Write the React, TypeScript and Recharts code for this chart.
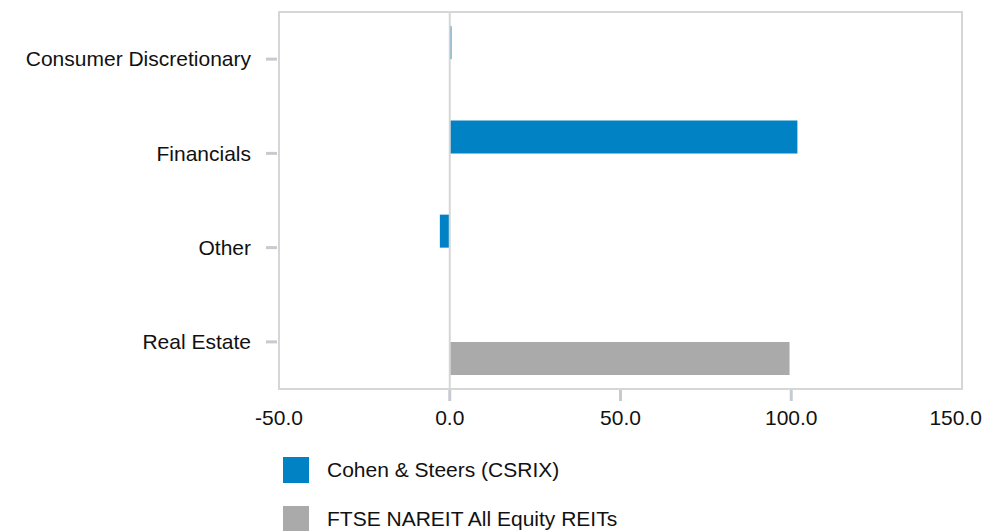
import React from 'react';
import { BarChart, Bar, XAxis, YAxis, ReferenceLine, ReferenceArea, Legend } from 'recharts';

const categories = ['Consumer Discretionary', 'Financials', 'Other', 'Real Estate'];
const fundValues = [0.5, 101.8, -2.9, 0];
const benchmarkValues = [0, 0, 0, 99.5];
const xTicks = [-50, 0, 50, 100, 150];
const seriesNames = ['Cohen & Steers (CSRIX)', 'FTSE NAREIT All Equity REITs'];
const seriesColors = ['#0082C4', '#AAAAAA'];

const data = categories.map((name, i) => ({
  name,
  fund: fundValues[i],
  bench: benchmarkValues[i],
}));

const FONT = '"Liberation Sans", Arial, sans-serif';
const TICK_COLOR = '#C6CBD0';
const BORDER_COLOR = '#D6D6D6';

const YTick = (props: any) => {
  const { x, y, payload } = props;
  return (
    <g>
      <line x1={x - 13} x2={x - 2} y1={y} y2={y} stroke={TICK_COLOR} strokeWidth={3} />
      <text x={x - 28} y={y} dy="0.35em" textAnchor="end" fontSize={21} fontFamily={FONT} fill="#111">
        {payload.value}
      </text>
    </g>
  );
};

const XTick = (props: any) => {
  const { x, y, payload } = props;
  const isFirst = payload.value === xTicks[0];
  const isLast = payload.value === xTicks[xTicks.length - 1];
  return (
    <g>
      {!isFirst && !isLast && <line x1={x} x2={x} y1={y + 1} y2={y + 12} stroke={TICK_COLOR} strokeWidth={3} />}
      <text
        x={isLast ? x + 20 : x}
        y={y + 36}
        textAnchor={isLast ? 'end' : 'middle'}
        fontSize={21}
        fontFamily={FONT}
        fill="#111"
      >
        {Number(payload.value).toFixed(1)}
      </text>
    </g>
  );
};

const LegendContent = () => (
  <div style={{ fontFamily: FONT, fontSize: 21, color: '#111' }}>
    {seriesNames.map((n, i) => (
      <div key={n} style={{ display: 'flex', alignItems: 'center', height: 26, lineHeight: '26px', marginBottom: 23.3 }}>
        <div style={{ width: 26, height: 26, background: seriesColors[i], marginRight: 18 }} />
        <span style={{ whiteSpace: 'nowrap' }}>{n}</span>
      </div>
    ))}
  </div>
);

export default function App() {
  return (
    <div style={{ position: 'absolute', left: 0, top: 0, width: 986, height: 531, background: '#fff' }}>
      <BarChart
        width={986}
        height={531}
        data={data}
        layout="vertical"
        margin={{ top: 12, right: 24, bottom: 102, left: 0 }}
        barCategoryGap="15%"
        barGap={0}
      >
        <XAxis
          type="number"
          domain={[-50, 150]}
          ticks={xTicks}
          axisLine={false}
          tickLine={false}
          tickSize={0}
          tickMargin={0}
          tick={<XTick />}
          height={40}
          interval={0}
        />
        <YAxis
          type="category"
          dataKey="name"
          width={279}
          axisLine={false}
          tickLine={false}
          tickSize={0}
          tickMargin={0}
          tick={<YTick />}
          interval={0}
        />
        <ReferenceArea x1={-50} x2={150} fill="none" stroke={BORDER_COLOR} strokeWidth={2} ifOverflow="visible" />
        <ReferenceLine x={0} stroke={BORDER_COLOR} strokeWidth={2} />
        <Bar dataKey="fund" name={seriesNames[0]} fill={seriesColors[0]} isAnimationActive={false} />
        <Bar dataKey="bench" name={seriesNames[1]} fill={seriesColors[1]} isAnimationActive={false} />
        <Legend
          layout="vertical"
          align="center"
          verticalAlign="middle"
          content={<LegendContent />}
          wrapperStyle={{ top: 457, left: 283, width: 500, height: 80 }}
        />
      </BarChart>
    </div>
  );
}
